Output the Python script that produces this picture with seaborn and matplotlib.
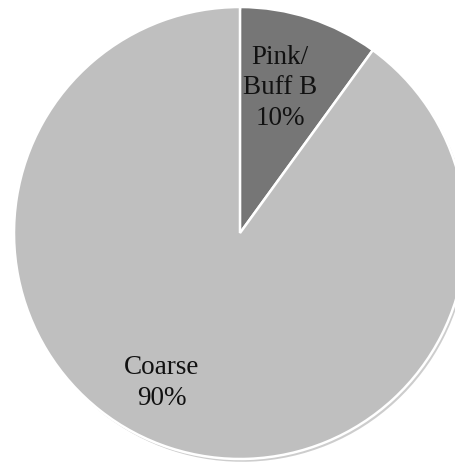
import matplotlib
matplotlib.use("Agg")
import matplotlib.pyplot as plt
import matplotlib.patheffects as pe
import seaborn as sns

# Data
categories = ["Pink/\nBuff B", "Coarse"]
shares = [10, 90]
colors = ["#767676", "#bfbfbf"]

sns.set_theme(style="white")
plt.rcParams['font.family'] = ['Liberation Serif', 'DejaVu Serif']

fig = plt.figure(figsize=(4.56, 4.62), dpi=100)
ax = fig.add_axes([0, 0, 1, 1])

# pie in pixel coordinates: center (240, 233 from top), radius 226
wedges, _ = ax.pie(shares, colors=colors, startangle=90, counterclock=False,
                   center=(240, 462 - 233), radius=226,
                   wedgeprops=dict(edgecolor="white", linewidth=1.8))
for w in wedges:
    w.set_path_effects([pe.SimplePatchShadow(offset=(1.5, -2), alpha=0.25), pe.Normal()])

ax.set_xlim(0, 456)
ax.set_ylim(0, 462)
ax.set_aspect("equal")
ax.axis("off")

labels = [f"{c}\n{s}%" for c, s in zip(categories, shares)]
ax.text(280, 462 - 88, labels[0], ha="center", va="center", fontsize=19.5,
        linespacing=1.3, color="#111111")
ax.text(162, 462 - 383, labels[1], ha="center", va="center", fontsize=19.5,
        linespacing=1.3, color="#111111")

fig.savefig("out.png", dpi=100)
